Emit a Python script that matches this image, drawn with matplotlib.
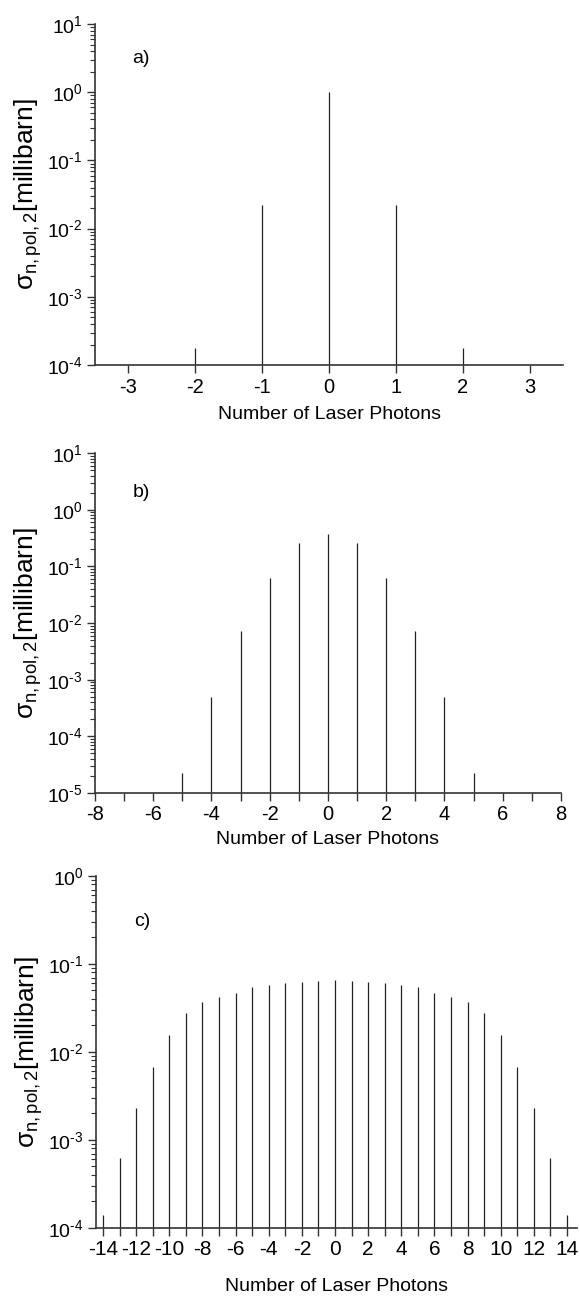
import numpy as np
import matplotlib
matplotlib.use("Agg")
import matplotlib.pyplot as plt
from matplotlib.ticker import LogLocator, MultipleLocator, NullFormatter, FuncFormatter

plt.rcParams["font.family"] = ["Liberation Sans", "DejaVu Sans"]
plt.rcParams["mathtext.fontset"] = "custom"
plt.rcParams["mathtext.rm"] = "Liberation Sans"
plt.rcParams["mathtext.it"] = "Liberation Sans:italic"
plt.rcParams["axes.unicode_minus"] = False

# photon numbers and cross sections (millibarn)
n_a = [-2, -1, 0, 1, 2]
sigma_a = [1.8e-4, 0.0225, 1.0, 0.0225, 1.8e-4]

n_b = [-5, -4, -3, -2, -1, 0, 1, 2, 3, 4, 5]
sigma_b = [2.3e-5, 5.0e-4, 7.2e-3, 0.062, 0.26, 0.38,
           0.26, 0.062, 7.2e-3, 5.0e-4, 2.3e-5]

n_c = list(range(-14, 15))
sigma_c = [1.39e-4, 6.2e-4, 2.3e-3, 6.7e-3, 0.0155, 0.028, 0.037, 0.042,
           0.047, 0.055, 0.057, 0.061, 0.063, 0.064, 0.066,
           0.064, 0.063, 0.061, 0.057, 0.055, 0.047, 0.042, 0.037,
           0.028, 0.0155, 6.7e-3, 2.3e-3, 6.2e-4, 1.39e-4]

panels = [
    # label, n, sigma, xlim, ylim, major, minor, rect, ticksize, labelpad, label y
    ("a)", n_a, sigma_a, (-3.5, 3.5), (1e-4, 10), 1, None,
     [0.1638, 0.7192, 0.8069, 0.2623], 14.5, 7, 0.90),
    ("b)", n_b, sigma_b, (-8, 8), (1e-5, 10), 2, 1,
     [0.1638, 0.3900, 0.8034, 0.2615], 14.5, 5, 0.885),
    ("c)", n_c, sigma_c, (-14.42, 14.6), (1e-4, 1), 2, 1,
     [0.1655, 0.0554, 0.8293, 0.2708], 15, 13, 0.87),
]


def decade_label(y, pos):
    k = int(round(np.log10(y)))
    return r"$10^{\text{%d}}$" % k


fig = plt.figure(figsize=(5.8, 13), dpi=100)

for tag, n, sig, xlim, ylim, major, minor, rect, tsize, lpad, ty in panels:
    ax = fig.add_axes(rect)
    ax.vlines(n, ylim[0], sig, color="#222222", lw=0.9)
    ax.set_yscale("log")
    ax.set_xlim(*xlim)
    ax.set_ylim(*ylim)

    ax.xaxis.set_major_locator(MultipleLocator(major))
    if minor:
        ax.xaxis.set_minor_locator(MultipleLocator(minor))
    ax.yaxis.set_major_locator(LogLocator(base=10, numticks=20))
    ax.yaxis.set_major_formatter(FuncFormatter(decade_label))
    ax.yaxis.set_minor_locator(LogLocator(base=10, subs=np.arange(2, 10), numticks=20))
    ax.yaxis.set_minor_formatter(NullFormatter())

    for side in ("top", "right"):
        ax.spines[side].set_visible(False)
    for side in ("left", "bottom"):
        ax.spines[side].set_linewidth(1.2)
        ax.spines[side].set_color("#333333")

    ax.tick_params(axis="x", which="major", direction="out", length=6,
                   width=1.0, color="#333333", labelsize=tsize, pad=3)
    ax.tick_params(axis="y", which="major", direction="out", length=6,
                   width=1.0, color="#333333", labelsize=14, pad=3)
    ax.tick_params(axis="y", which="minor", direction="out", length=3.5,
                   width=0.8, color="#333333")
    ax.tick_params(axis="x", which="minor", direction="out", length=6,
                   width=1.0, color="#333333")

    ax.set_xlabel("Number of Laser Photons", fontsize=14, labelpad=lpad)
    ax.set_ylabel(r"σ$_{\mathrm{n,pol,2}}$[millibarn]", fontsize=19, labelpad=2)
    ax.text(0.08, ty, tag, transform=ax.transAxes, fontsize=14,
            ha="left", va="center")

fig.savefig("out.png", dpi=100)
